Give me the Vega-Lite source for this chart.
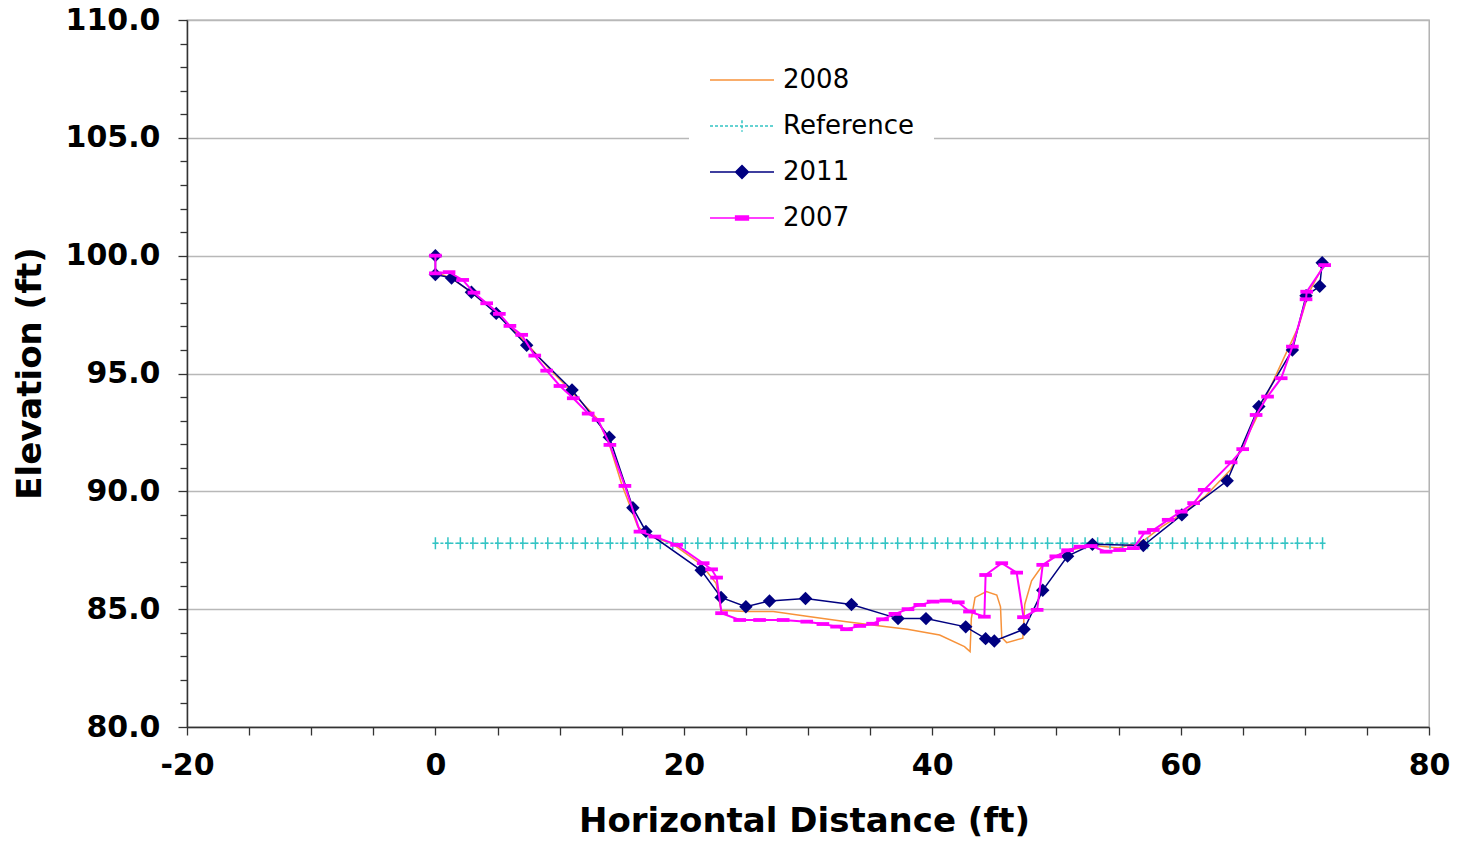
{
  "$schema": "https://vega.github.io/schema/vega-lite/v6.json",
  "width": 1242,
  "height": 707,
  "autosize": {"type": "none"},
  "padding": {"left": 187, "top": 20, "right": 29, "bottom": 114},
  "background": "white",
  "config": {
    "view": {"stroke": "#a6a6a6", "strokeWidth": 1.3},
    "font": "DejaVu Sans"
  },
  "datasets": {
    "survey": [
      {"series": "2008", "i": 0, "x": 0, "y": 99.3},
      {"series": "2008", "i": 1, "x": 1.3, "y": 99.05},
      {"series": "2008", "i": 2, "x": 3.0, "y": 98.4},
      {"series": "2008", "i": 3, "x": 5.0, "y": 97.55},
      {"series": "2008", "i": 4, "x": 7.4, "y": 96.25},
      {"series": "2008", "i": 5, "x": 9.0, "y": 95.3},
      {"series": "2008", "i": 6, "x": 11.0, "y": 94.2},
      {"series": "2008", "i": 7, "x": 13.0, "y": 93.1},
      {"series": "2008", "i": 8, "x": 14.0, "y": 92.0},
      {"series": "2008", "i": 9, "x": 15.0, "y": 90.3},
      {"series": "2008", "i": 10, "x": 16.3, "y": 88.5},
      {"series": "2008", "i": 11, "x": 17.2, "y": 88.1},
      {"series": "2008", "i": 12, "x": 19.0, "y": 87.8},
      {"series": "2008", "i": 13, "x": 21.4, "y": 86.9},
      {"series": "2008", "i": 14, "x": 22.6, "y": 86.1},
      {"series": "2008", "i": 15, "x": 23.0, "y": 84.95},
      {"series": "2008", "i": 16, "x": 25.0, "y": 84.9},
      {"series": "2008", "i": 17, "x": 27.2, "y": 84.9},
      {"series": "2008", "i": 18, "x": 29.9, "y": 84.7},
      {"series": "2008", "i": 19, "x": 33.1, "y": 84.47},
      {"series": "2008", "i": 20, "x": 36.0, "y": 84.28},
      {"series": "2008", "i": 21, "x": 38.0, "y": 84.15},
      {"series": "2008", "i": 22, "x": 40.6, "y": 83.9},
      {"series": "2008", "i": 23, "x": 42.6, "y": 83.41},
      {"series": "2008", "i": 24, "x": 43.05, "y": 83.2},
      {"series": "2008", "i": 25, "x": 43.15, "y": 84.6},
      {"series": "2008", "i": 26, "x": 43.45, "y": 85.5},
      {"series": "2008", "i": 27, "x": 44.36, "y": 85.75},
      {"series": "2008", "i": 28, "x": 45.2, "y": 85.6},
      {"series": "2008", "i": 29, "x": 45.5, "y": 85.1},
      {"series": "2008", "i": 30, "x": 45.6, "y": 83.8},
      {"series": "2008", "i": 31, "x": 46.0, "y": 83.58},
      {"series": "2008", "i": 32, "x": 47.3, "y": 83.77},
      {"series": "2008", "i": 33, "x": 47.45, "y": 85.2},
      {"series": "2008", "i": 34, "x": 48.0, "y": 86.2},
      {"series": "2008", "i": 35, "x": 48.8, "y": 86.8},
      {"series": "2008", "i": 36, "x": 49.7, "y": 87.2},
      {"series": "2008", "i": 37, "x": 51.0, "y": 87.5},
      {"series": "2008", "i": 38, "x": 53.0, "y": 87.7},
      {"series": "2008", "i": 39, "x": 55.0, "y": 87.6},
      {"series": "2008", "i": 40, "x": 57.0, "y": 87.9},
      {"series": "2008", "i": 41, "x": 58.5, "y": 88.5},
      {"series": "2008", "i": 42, "x": 60.0, "y": 89.0},
      {"series": "2008", "i": 43, "x": 62.0, "y": 89.8},
      {"series": "2008", "i": 44, "x": 64.0, "y": 90.9},
      {"series": "2008", "i": 45, "x": 66.0, "y": 93.0},
      {"series": "2008", "i": 46, "x": 68.0, "y": 95.3},
      {"series": "2008", "i": 47, "x": 69.5, "y": 97.0},
      {"series": "2008", "i": 48, "x": 70.3, "y": 98.4},
      {"series": "2008", "i": 49, "x": 71.5, "y": 99.6},

      {"series": "Reference", "i": 0, "x": 0, "y": 87.8},
      {"series": "Reference", "i": 1, "x": 1.01, "y": 87.8},
      {"series": "Reference", "i": 2, "x": 2.01, "y": 87.8},
      {"series": "Reference", "i": 3, "x": 3.02, "y": 87.8},
      {"series": "Reference", "i": 4, "x": 4.02, "y": 87.8},
      {"series": "Reference", "i": 5, "x": 5.03, "y": 87.8},
      {"series": "Reference", "i": 6, "x": 6.04, "y": 87.8},
      {"series": "Reference", "i": 7, "x": 7.04, "y": 87.8},
      {"series": "Reference", "i": 8, "x": 8.05, "y": 87.8},
      {"series": "Reference", "i": 9, "x": 9.05, "y": 87.8},
      {"series": "Reference", "i": 10, "x": 10.06, "y": 87.8},
      {"series": "Reference", "i": 11, "x": 11.07, "y": 87.8},
      {"series": "Reference", "i": 12, "x": 12.07, "y": 87.8},
      {"series": "Reference", "i": 13, "x": 13.08, "y": 87.8},
      {"series": "Reference", "i": 14, "x": 14.08, "y": 87.8},
      {"series": "Reference", "i": 15, "x": 15.09, "y": 87.8},
      {"series": "Reference", "i": 16, "x": 16.1, "y": 87.8},
      {"series": "Reference", "i": 17, "x": 17.1, "y": 87.8},
      {"series": "Reference", "i": 18, "x": 18.11, "y": 87.8},
      {"series": "Reference", "i": 19, "x": 19.11, "y": 87.8},
      {"series": "Reference", "i": 20, "x": 20.12, "y": 87.8},
      {"series": "Reference", "i": 21, "x": 21.13, "y": 87.8},
      {"series": "Reference", "i": 22, "x": 22.13, "y": 87.8},
      {"series": "Reference", "i": 23, "x": 23.14, "y": 87.8},
      {"series": "Reference", "i": 24, "x": 24.14, "y": 87.8},
      {"series": "Reference", "i": 25, "x": 25.15, "y": 87.8},
      {"series": "Reference", "i": 26, "x": 26.16, "y": 87.8},
      {"series": "Reference", "i": 27, "x": 27.16, "y": 87.8},
      {"series": "Reference", "i": 28, "x": 28.17, "y": 87.8},
      {"series": "Reference", "i": 29, "x": 29.17, "y": 87.8},
      {"series": "Reference", "i": 30, "x": 30.18, "y": 87.8},
      {"series": "Reference", "i": 31, "x": 31.19, "y": 87.8},
      {"series": "Reference", "i": 32, "x": 32.19, "y": 87.8},
      {"series": "Reference", "i": 33, "x": 33.2, "y": 87.8},
      {"series": "Reference", "i": 34, "x": 34.2, "y": 87.8},
      {"series": "Reference", "i": 35, "x": 35.21, "y": 87.8},
      {"series": "Reference", "i": 36, "x": 36.22, "y": 87.8},
      {"series": "Reference", "i": 37, "x": 37.22, "y": 87.8},
      {"series": "Reference", "i": 38, "x": 38.23, "y": 87.8},
      {"series": "Reference", "i": 39, "x": 39.23, "y": 87.8},
      {"series": "Reference", "i": 40, "x": 40.24, "y": 87.8},
      {"series": "Reference", "i": 41, "x": 41.25, "y": 87.8},
      {"series": "Reference", "i": 42, "x": 42.25, "y": 87.8},
      {"series": "Reference", "i": 43, "x": 43.26, "y": 87.8},
      {"series": "Reference", "i": 44, "x": 44.26, "y": 87.8},
      {"series": "Reference", "i": 45, "x": 45.27, "y": 87.8},
      {"series": "Reference", "i": 46, "x": 46.28, "y": 87.8},
      {"series": "Reference", "i": 47, "x": 47.28, "y": 87.8},
      {"series": "Reference", "i": 48, "x": 48.29, "y": 87.8},
      {"series": "Reference", "i": 49, "x": 49.29, "y": 87.8},
      {"series": "Reference", "i": 50, "x": 50.3, "y": 87.8},
      {"series": "Reference", "i": 51, "x": 51.31, "y": 87.8},
      {"series": "Reference", "i": 52, "x": 52.31, "y": 87.8},
      {"series": "Reference", "i": 53, "x": 53.32, "y": 87.8},
      {"series": "Reference", "i": 54, "x": 54.32, "y": 87.8},
      {"series": "Reference", "i": 55, "x": 55.33, "y": 87.8},
      {"series": "Reference", "i": 56, "x": 56.34, "y": 87.8},
      {"series": "Reference", "i": 57, "x": 57.34, "y": 87.8},
      {"series": "Reference", "i": 58, "x": 58.35, "y": 87.8},
      {"series": "Reference", "i": 59, "x": 59.35, "y": 87.8},
      {"series": "Reference", "i": 60, "x": 60.36, "y": 87.8},
      {"series": "Reference", "i": 61, "x": 61.37, "y": 87.8},
      {"series": "Reference", "i": 62, "x": 62.37, "y": 87.8},
      {"series": "Reference", "i": 63, "x": 63.38, "y": 87.8},
      {"series": "Reference", "i": 64, "x": 64.38, "y": 87.8},
      {"series": "Reference", "i": 65, "x": 65.39, "y": 87.8},
      {"series": "Reference", "i": 66, "x": 66.4, "y": 87.8},
      {"series": "Reference", "i": 67, "x": 67.4, "y": 87.8},
      {"series": "Reference", "i": 68, "x": 68.41, "y": 87.8},
      {"series": "Reference", "i": 69, "x": 69.41, "y": 87.8},
      {"series": "Reference", "i": 70, "x": 70.42, "y": 87.8},
      {"series": "Reference", "i": 71, "x": 71.43, "y": 87.8},

      {"series": "2011", "i": 0, "x": 0, "y": 100.0},
      {"series": "2011", "i": 1, "x": 0, "y": 99.2},
      {"series": "2011", "i": 2, "x": 1.3, "y": 99.05},
      {"series": "2011", "i": 3, "x": 2.9, "y": 98.45},
      {"series": "2011", "i": 4, "x": 4.9, "y": 97.55},
      {"series": "2011", "i": 5, "x": 7.35, "y": 96.2},
      {"series": "2011", "i": 6, "x": 11.0, "y": 94.3},
      {"series": "2011", "i": 7, "x": 14.0, "y": 92.3},
      {"series": "2011", "i": 8, "x": 15.9, "y": 89.3},
      {"series": "2011", "i": 9, "x": 16.95, "y": 88.3},
      {"series": "2011", "i": 10, "x": 21.4, "y": 86.65},
      {"series": "2011", "i": 11, "x": 23.0, "y": 85.5},
      {"series": "2011", "i": 12, "x": 25.0, "y": 85.1},
      {"series": "2011", "i": 13, "x": 26.9, "y": 85.35},
      {"series": "2011", "i": 14, "x": 29.8, "y": 85.45},
      {"series": "2011", "i": 15, "x": 33.5, "y": 85.2},
      {"series": "2011", "i": 16, "x": 37.25, "y": 84.6},
      {"series": "2011", "i": 17, "x": 39.5, "y": 84.6},
      {"series": "2011", "i": 18, "x": 42.7, "y": 84.25},
      {"series": "2011", "i": 19, "x": 44.3, "y": 83.75},
      {"series": "2011", "i": 20, "x": 45.0, "y": 83.65},
      {"series": "2011", "i": 21, "x": 47.4, "y": 84.15},
      {"series": "2011", "i": 22, "x": 48.9, "y": 85.8},
      {"series": "2011", "i": 23, "x": 50.9, "y": 87.25},
      {"series": "2011", "i": 24, "x": 52.9, "y": 87.75},
      {"series": "2011", "i": 25, "x": 57.0, "y": 87.7},
      {"series": "2011", "i": 26, "x": 60.1, "y": 89.0},
      {"series": "2011", "i": 27, "x": 63.75, "y": 90.45},
      {"series": "2011", "i": 28, "x": 66.3, "y": 93.6},
      {"series": "2011", "i": 29, "x": 69.0, "y": 96.0},
      {"series": "2011", "i": 30, "x": 70.1, "y": 98.3},
      {"series": "2011", "i": 31, "x": 71.2, "y": 98.7},
      {"series": "2011", "i": 32, "x": 71.4, "y": 99.7},

      {"series": "2007", "i": 0, "x": 0, "y": 100.0},
      {"series": "2007", "i": 1, "x": 0, "y": 99.25},
      {"series": "2007", "i": 2, "x": 1.1, "y": 99.3},
      {"series": "2007", "i": 3, "x": 2.2, "y": 98.97},
      {"series": "2007", "i": 4, "x": 3.1, "y": 98.43},
      {"series": "2007", "i": 5, "x": 4.13, "y": 97.98},
      {"series": "2007", "i": 6, "x": 5.15, "y": 97.53},
      {"series": "2007", "i": 7, "x": 6.0, "y": 97.02},
      {"series": "2007", "i": 8, "x": 6.95, "y": 96.64},
      {"series": "2007", "i": 9, "x": 8.0, "y": 95.76},
      {"series": "2007", "i": 10, "x": 8.96, "y": 95.12},
      {"series": "2007", "i": 11, "x": 10.03, "y": 94.47},
      {"series": "2007", "i": 12, "x": 11.1, "y": 93.95},
      {"series": "2007", "i": 13, "x": 12.3, "y": 93.3},
      {"series": "2007", "i": 14, "x": 13.1, "y": 93.03},
      {"series": "2007", "i": 15, "x": 14.05, "y": 91.97},
      {"series": "2007", "i": 16, "x": 15.26, "y": 90.23},
      {"series": "2007", "i": 17, "x": 16.47, "y": 88.29},
      {"series": "2007", "i": 18, "x": 17.67, "y": 88.08},
      {"series": "2007", "i": 19, "x": 19.42, "y": 87.73},
      {"series": "2007", "i": 20, "x": 21.56, "y": 86.95},
      {"series": "2007", "i": 21, "x": 22.24, "y": 86.69},
      {"series": "2007", "i": 22, "x": 22.64, "y": 86.34},
      {"series": "2007", "i": 23, "x": 23.04, "y": 84.83},
      {"series": "2007", "i": 24, "x": 24.5, "y": 84.54},
      {"series": "2007", "i": 25, "x": 26.1, "y": 84.54},
      {"series": "2007", "i": 26, "x": 28.0, "y": 84.54},
      {"series": "2007", "i": 27, "x": 29.9, "y": 84.47},
      {"series": "2007", "i": 28, "x": 31.2, "y": 84.37},
      {"series": "2007", "i": 29, "x": 32.3, "y": 84.26},
      {"series": "2007", "i": 30, "x": 33.1, "y": 84.15},
      {"series": "2007", "i": 31, "x": 34.17, "y": 84.29},
      {"series": "2007", "i": 32, "x": 35.2, "y": 84.38},
      {"series": "2007", "i": 33, "x": 36.0, "y": 84.57},
      {"series": "2007", "i": 34, "x": 37.0, "y": 84.8},
      {"series": "2007", "i": 35, "x": 38.05, "y": 85.0},
      {"series": "2007", "i": 36, "x": 39.0, "y": 85.18},
      {"series": "2007", "i": 37, "x": 40.07, "y": 85.32},
      {"series": "2007", "i": 38, "x": 41.1, "y": 85.36},
      {"series": "2007", "i": 39, "x": 42.1, "y": 85.29},
      {"series": "2007", "i": 40, "x": 43.0, "y": 84.9},
      {"series": "2007", "i": 41, "x": 44.2, "y": 84.68},
      {"series": "2007", "i": 42, "x": 44.3, "y": 86.45},
      {"series": "2007", "i": 43, "x": 45.6, "y": 86.95},
      {"series": "2007", "i": 44, "x": 46.8, "y": 86.55},
      {"series": "2007", "i": 45, "x": 47.35, "y": 84.66},
      {"series": "2007", "i": 46, "x": 48.45, "y": 84.97},
      {"series": "2007", "i": 47, "x": 48.9, "y": 86.88},
      {"series": "2007", "i": 48, "x": 49.95, "y": 87.24},
      {"series": "2007", "i": 49, "x": 50.9, "y": 87.5},
      {"series": "2007", "i": 50, "x": 51.9, "y": 87.65},
      {"series": "2007", "i": 51, "x": 52.8, "y": 87.68},
      {"series": "2007", "i": 52, "x": 54.0, "y": 87.44},
      {"series": "2007", "i": 53, "x": 55.1, "y": 87.51},
      {"series": "2007", "i": 54, "x": 56.2, "y": 87.59},
      {"series": "2007", "i": 55, "x": 57.1, "y": 88.25},
      {"series": "2007", "i": 56, "x": 57.8, "y": 88.36},
      {"series": "2007", "i": 57, "x": 59.0, "y": 88.79},
      {"series": "2007", "i": 58, "x": 60.05, "y": 89.14},
      {"series": "2007", "i": 59, "x": 61.05, "y": 89.5},
      {"series": "2007", "i": 60, "x": 61.9, "y": 90.06},
      {"series": "2007", "i": 61, "x": 64.07, "y": 91.23},
      {"series": "2007", "i": 62, "x": 65.0, "y": 91.79},
      {"series": "2007", "i": 63, "x": 66.08, "y": 93.24},
      {"series": "2007", "i": 64, "x": 67.0, "y": 94.02},
      {"series": "2007", "i": 65, "x": 68.1, "y": 94.8},
      {"series": "2007", "i": 66, "x": 69.0, "y": 96.14},
      {"series": "2007", "i": 67, "x": 70.1, "y": 98.15},
      {"series": "2007", "i": 68, "x": 70.15, "y": 98.47},
      {"series": "2007", "i": 69, "x": 71.6, "y": 99.6}
    ]
  },
  "data": {"name": "survey"},
  "encoding": {
    "x": {
      "field": "x",
      "type": "quantitative",
      "scale": {"domain": [-20, 80], "nice": false, "zero": false},
      "axis": {
        "title": "Horizontal Distance (ft)",
        "values": [-20, -15, -10, -5, 0, 5, 10, 15, 20, 25, 30, 35, 40, 45, 50, 55, 60, 65, 70, 75, 80],
        "labelExpr": "datum.value % 20 === 0 ? toString(datum.value) : ''",
        "grid": false,
        "domainColor": "#333333",
        "domainWidth": 1.5,
        "tickColor": "#333333",
        "tickWidth": 1.3,
        "tickSize": 8,
        "labelFont": "DejaVu Sans",
        "labelFontWeight": "bold",
        "labelFontSize": 30,
        "labelColor": "#000000",
        "labelPadding": 15,
        "labelFlush": false,
        "labelOverlap": false,
        "titleFont": "DejaVu Sans",
        "titleFontWeight": "bold",
        "titleFontSize": 34,
        "titleColor": "#000000",
        "titleX": 617,
        "titleY": 94,
        "titleBaseline": "middle",
        "titleAlign": "center"
      }
    },
    "y": {
      "field": "y",
      "type": "quantitative",
      "scale": {"domain": [80, 110], "nice": false, "zero": false},
      "axis": {
        "title": "Elevation (ft)",
        "values": [80, 81, 82, 83, 84, 85, 86, 87, 88, 89, 90, 91, 92, 93, 94, 95, 96, 97, 98, 99, 100, 101, 102, 103, 104, 105, 106, 107, 108, 109, 110],
        "labelExpr": "datum.value % 5 === 0 ? format(datum.value, '.1f') : ''",
        "grid": true,
        "gridColor": "#b8b8b8",
        "gridWidth": 1.3,
        "gridOpacity": {"condition": {"test": "datum.value % 5 === 0", "value": 1}, "value": 0},
        "domainColor": "#333333",
        "domainWidth": 1.5,
        "tickColor": "#333333",
        "tickWidth": 1.3,
        "tickSize": {"condition": {"test": "datum.value % 5 === 0", "value": 9}, "value": 7},
        "labelFont": "DejaVu Sans",
        "labelFontWeight": "bold",
        "labelFontSize": 30,
        "labelColor": "#000000",
        "labelPadding": 18,
        "labelFlush": false,
        "labelOverlap": false,
        "titleFont": "DejaVu Sans",
        "titleFontWeight": "bold",
        "titleFontSize": 34,
        "titleColor": "#000000",
        "titleAngle": -90,
        "titleX": -157,
        "titleY": 353,
        "titleBaseline": "middle",
        "titleAlign": "center"
      }
    },
    "color": {
      "field": "series",
      "type": "nominal",
      "scale": {
        "domain": ["2008", "Reference", "2011", "2007"],
        "range": ["#F7923A", "#33C4C4", "#000080", "#FF00FF"]
      },
      "legend": {
        "orient": "none",
        "legendX": 502,
        "legendY": 7,
        "title": null,
        "fillColor": "white",
        "padding": 20,
        "symbolSize": 4096,
        "symbolType": "M-1,0H1",
        "symbolStrokeWidth": 1.5,
        "labelFont": "DejaVu Sans",
        "labelFontSize": 26,
        "labelColor": "#000000",
        "labelOffset": 8,
        "rowPadding": -1,
        "encode": {
          "symbols": {
            "update": {
              "shape": [
                {"test": "datum.value === '2011'", "value": "M-1,0H1M0,-0.2L0.2,0L0,0.2L-0.2,0Z"},
                {"test": "datum.value === '2007'", "value": "M-1,0H1M-0.2,-0.06H0.2V0.06H-0.2Z"},
                {"test": "datum.value === 'Reference'", "value": "M-1,0H1M0,-0.18V0.18"},
                {"value": "M-1,0H1"}
              ],
              "fill": [
                {"test": "datum.value === '2011'", "value": "#000080"},
                {"test": "datum.value === '2007'", "value": "#FF00FF"},
                {"value": "transparent"}
              ],
              "stroke": [
                {"test": "datum.value === '2011'", "value": "#000080"},
                {"test": "datum.value === '2007'", "value": "#FF00FF"},
                {"test": "datum.value === 'Reference'", "value": "#33C4C4"},
                {"value": "#F7923A"}
              ],
              "strokeDash": [
                {"test": "datum.value === 'Reference'", "value": [3, 2]},
                {"value": []}
              ],
              "opacity": {"value": 1}
            }
          }
        }
      }
    },
    "order": {"field": "i", "type": "quantitative"}
  },
  "layer": [
    {
      "transform": [{"filter": "datum.series === '2008'"}],
      "mark": {"type": "line", "strokeWidth": 1.5}
    },
    {
      "transform": [{"filter": "datum.series === 'Reference'"}],
      "mark": {"type": "line", "strokeWidth": 1.4, "strokeDash": [3, 2]}
    },
    {
      "transform": [{"filter": "datum.series === 'Reference'"}],
      "mark": {"type": "point", "shape": "M-0.5,0H0.5M0,-1V1", "size": 144, "strokeWidth": 1.5, "filled": false, "opacity": 1}
    },
    {
      "transform": [{"filter": "datum.series === '2011'"}],
      "mark": {"type": "line", "strokeWidth": 1.5}
    },
    {
      "transform": [{"filter": "datum.series === '2011'"}],
      "mark": {"type": "point", "shape": "diamond", "size": 180, "filled": true, "opacity": 1}
    },
    {
      "transform": [{"filter": "datum.series === '2007'"}],
      "mark": {"type": "line", "strokeWidth": 2}
    },
    {
      "transform": [{"filter": "datum.series === '2007'"}],
      "mark": {"type": "point", "shape": "M-1,-0.3H1V0.3H-1Z", "size": 160, "filled": true, "opacity": 1}
    }
  ]
}
